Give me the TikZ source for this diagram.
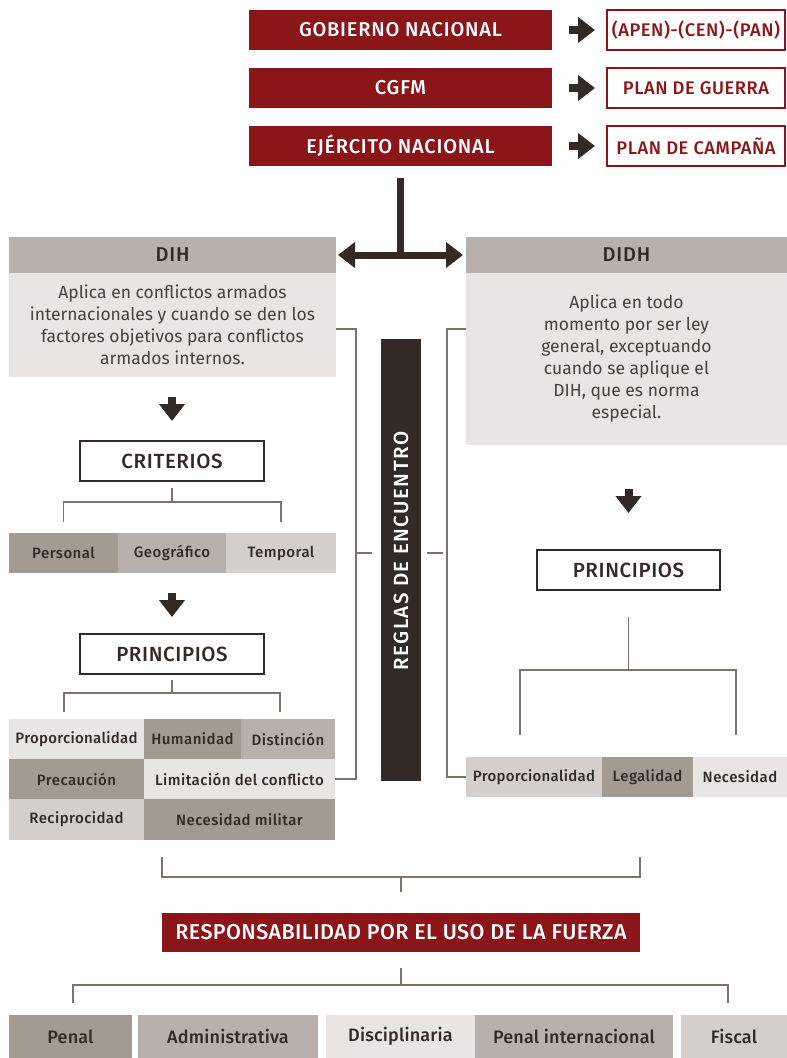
\documentclass[tikz,border=0pt]{standalone}
\usepackage{fontspec}
\setmainfont{Fira Sans}[BoldFont={Fira Sans Medium}]
\usetikzlibrary{arrows.meta}
\definecolor{dred}{HTML}{8B1619}
\definecolor{dbrown}{HTML}{342A25}
\definecolor{lnc}{HTML}{7D7368}
\definecolor{txt}{HTML}{4A413B}
\definecolor{cA}{HTML}{A39A92}
\definecolor{cB}{HTML}{B8B0AA}
\definecolor{cC}{HTML}{D4CFCB}
\definecolor{cD}{HTML}{E9E5E2}
\newcommand{\fsz}[2]{\fontsize{#1}{#1}\selectfont\bfseries\addfontfeature{LetterSpace=#2}}
\tikzset{
  box/.style={anchor=north west, inner sep=0pt, outer sep=0pt, align=center},
  redbox/.style={box, fill=dred, text=white, font=\fsz{20}{4}, minimum height=40pt},
  outbox/.style={box, draw=dred, line width=2pt, text=dred, font=\fsz{18.3}{3}, minimum height=40pt, minimum width=178pt},
  whitebox/.style={box, draw=dbrown, line width=1.5pt, text=dbrown, font=\fsz{20.5}{3}, minimum height=40pt},
  headbox/.style={box, fill=cB, text=dbrown, font=\fsz{20}{4}, minimum height=36pt},
  bodybox/.style={box, fill=cD, text=txt, font=\fontsize{17.5}{22}\selectfont},
  cell/.style={box, text=dbrown, font=\fsz{15}{3}},
  bcell/.style={box, text=dbrown, font=\fsz{18}{1}, minimum height=43pt},
  conn/.style={draw=lnc, line width=1.8pt},
  blockarrow/.style={draw=dbrown, line width=8pt, -{Triangle[length=17pt, width=25pt]}},
}
\begin{document}
\begin{tikzpicture}[x=1pt, y=-1pt]
\useasboundingbox (0,0) rectangle (787,1058);
% top rows
\node[redbox, minimum width=303pt] (gob) at (249,10) {GOBIERNO NACIONAL};
\node[redbox, minimum width=303pt] (cgfm) at (249,68) {CGFM};
\node[redbox, minimum width=303pt] (ejer) at (249,126) {EJÉRCITO NACIONAL};
\node[outbox] (apen) at (607,10) {(APEN)-(CEN)-(PAN)};
\node[outbox] (guerra) at (607,68) {PLAN DE GUERRA};
\node[outbox] (campana) at (607,126) {PLAN DE CAMPAÑA};
\draw[blockarrow, shorten <=17pt, shorten >=12pt] (gob.east) -- (apen.west);
\draw[blockarrow, shorten <=17pt, shorten >=12pt] (cgfm.east) -- (guerra.west);
\draw[blockarrow, shorten <=17pt, shorten >=12pt] (ejer.east) -- (campana.west);
% DIH / DIDH
\node[headbox, minimum width=327pt] (dihhead) at (9,237) {DIH};
\node[bodybox, minimum width=327pt, minimum height=104pt] (dihbody) at (9,273)
  {Aplica en conflictos armados\\internacionales y cuando se den los\\factores objetivos para conflictos\\armados internos.};
\node[headbox, minimum width=321pt] (didhhead) at (466,237) {DIDH};
\node[bodybox, minimum width=321pt, minimum height=172pt] (didhbody) at (466,273)
  {Aplica en todo\\momento por ser ley\\general, exceptuando\\cuando se aplique el\\DIH, que es norma\\especial.};
\draw[dbrown, line width=7pt, shorten <=12pt] (ejer.south) -- (ejer.south |- dihhead.east);
\draw[dbrown, line width=7pt, {Triangle[length=17pt, width=25pt]}-{Triangle[length=17pt, width=25pt]}, shorten <=2pt, shorten >=3pt] (dihhead.east) -- (didhhead.west);
% left column
\node[whitebox, minimum width=184pt] (crit) at (80,441) {CRITERIOS};
\draw[blockarrow, shorten <=20pt, shorten >=20pt] (dihbody.south -| crit.north) -- (crit.north);
\node[cell, fill=cA, minimum width=109pt, minimum height=40pt] (pers) at (9,533) {Personal};
\node[cell, fill=cB, minimum width=108pt, minimum height=40pt] (geo) at (118,533) {Geográfico};
\node[cell, fill=cC, minimum width=110pt, minimum height=40pt] (temp) at (226,533) {Temporal};
\draw[conn, shorten <=7pt, shorten >=11pt] (crit.south) -- ++(0,21) -| (pers.north);
\draw[conn, shorten <=7pt, shorten >=11pt] (crit.south) -- ++(0,21) -| (temp.north);
\node[whitebox, minimum width=184pt] (princ) at (80,634) {PRINCIPIOS};
\draw[blockarrow, shorten <=20pt, shorten >=17pt] (geo.south) -- (princ.north);
\node[cell, fill=cD, minimum width=135pt, minimum height=40pt, font=\fsz{15}{2}] (prop) at (9,719) {Proporcionalidad};
\node[cell, fill=cA, minimum width=97pt, minimum height=40pt] (hum) at (144,719) {Humanidad};
\node[cell, fill=cB, minimum width=94pt, minimum height=40pt] (dist) at (241,719) {Distinción};
\node[cell, fill=cA, minimum width=135pt, minimum height=40pt] (prec) at (9,759) {Precaución};
\node[cell, fill=cD, minimum width=191pt, minimum height=40pt] (lim) at (144,759) {Limitación del conflicto};
\node[cell, fill=cC, minimum width=135pt, minimum height=41pt] (rec) at (9,799) {Reciprocidad};
\node[cell, fill=cA, minimum width=191pt, minimum height=41pt] (necm) at (144,799) {\raisebox{-4pt}{Necesidad militar}};
\coordinate (pl1) at (64,719);
\coordinate (pl2) at (280,719);
\draw[conn, shorten <=6pt, shorten >=7pt] (princ.south) -- ++(0,19) -| (pl1);
\draw[conn, shorten <=6pt, shorten >=7pt] (princ.south) -- ++(0,19) -| (pl2);
% reglas
\node[box, fill=dbrown, text=white, minimum width=40pt, minimum height=442pt, font=\fsz{20.5}{7}] (reglas) at (381,339) {\rotatebox{90}{\hspace*{18pt}REGLAS DE ENCUENTRO}};
\coordinate (lbt) at ([yshift=-4pt]dihbody.east);
\draw[conn] (lbt) -- ++(20,0) |- (lim.east);
\coordinate (lbm) at (356,553);
\draw[conn, shorten >=9pt] (lbm) -- (reglas.west |- lbm);
% right column
\node[whitebox, minimum width=183pt] (rprinc) at (537,550) {PRINCIPIOS};
\draw[blockarrow, shorten <=44pt, shorten >=37pt] (didhbody.south -| rprinc.north) -- (rprinc.north);
\node[cell, fill=cC, minimum width=136pt, minimum height=40pt, font=\fsz{15}{2}] (rprop) at (466,757) {Proporcionalidad};
\node[cell, fill=cA, minimum width=91pt, minimum height=40pt] (leg) at (602,757) {Legalidad};
\node[cell, fill=cD, minimum width=94pt, minimum height=40pt] (necd) at (693,757) {Necesidad};
\coordinate (rl1) at (520,757);
\coordinate (rl2) at (736,757);
\draw[conn, shorten <=27pt, shorten >=22pt] (rprinc.south) -- ++(0,80) -| (rl1);
\draw[conn, shorten <=27pt, shorten >=22pt] (rprinc.south) -- ++(0,80) -| (rl2);
\draw[conn] (didhbody.west |- lbt) -- ++(-19,0) |- (rprop.west);
\coordinate (rbm) at (443,553);
\draw[conn, shorten >=6pt] (rbm) -- (reglas.east |- rbm);
% responsabilidad
\node[redbox, minimum width=478pt, minimum height=39pt, font=\fsz{21.5}{2}] (resp) at (162,913) {RESPONSABILIDAD POR EL USO DE LA FUERZA};
\coordinate (lb1) at (162,857);
\coordinate (lb2) at (640,857);
\coordinate (lbc) at (401,877);
\draw[conn] (lb1) -- ++(0,20) -| (lb2);
\draw[conn, shorten >=21pt] (lbc) -- (resp.north);
\node[bcell, fill=cA, minimum width=123pt] (penal) at (9,1015) {Penal};
\node[bcell, fill=cB, minimum width=180pt] (adm) at (138,1015) {Administrativa};
\node[bcell, fill=cD, minimum width=149pt] (disc) at (326,1015) {Disciplinaria};
\node[bcell, fill=cB, minimum width=198pt] (penint) at (475,1015) {Penal internacional};
\node[bcell, fill=cC, minimum width=106pt] (fisc) at (681,1015) {Fiscal};
\coordinate (bl1) at (73,1015);
\coordinate (bl2) at (728,1015);
\draw[conn, shorten <=16pt, shorten >=12pt] (resp.south) -- ++(0,33) -| (bl1);
\draw[conn, shorten <=16pt, shorten >=12pt] (resp.south) -- ++(0,33) -| (bl2);
\end{tikzpicture}
\end{document}
